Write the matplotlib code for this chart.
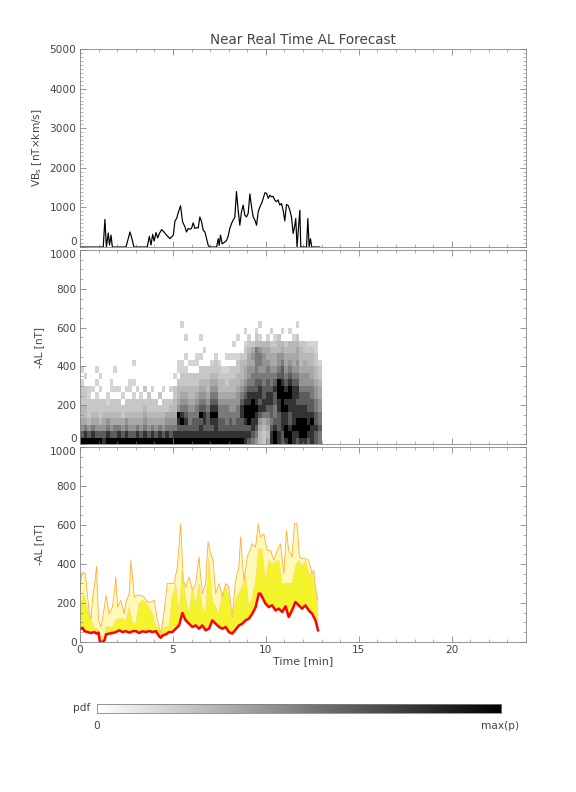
import numpy as np
import matplotlib
matplotlib.use('Agg')
import matplotlib.pyplot as plt
from matplotlib.ticker import MultipleLocator

# top panel: VBs [nT x km/s] vs time [min]
t_vbs = [0.00, 1.25, 1.34, 1.42, 1.52, 1.59, 1.67, 1.74, 2.47, 2.56, 2.69, 2.80, 2.90,
         3.62, 3.73, 3.82, 3.91, 3.99, 4.09, 4.18, 4.27, 4.39, 4.52, 4.66, 4.84, 5.02,
         5.11, 5.20, 5.30, 5.41, 5.52, 5.65, 5.73, 5.82, 5.91, 6.00, 6.09, 6.18, 6.27,
         6.36, 6.45, 6.54, 6.63, 6.72, 6.81, 6.90, 6.99, 7.35, 7.44, 7.49, 7.56, 7.65,
         7.80, 7.89, 7.97, 8.06, 8.15, 8.24, 8.33, 8.42, 8.51, 8.60, 8.69, 8.78, 8.87,
         8.96, 9.05, 9.14, 9.23, 9.32, 9.41, 9.50, 9.59, 9.68, 9.77, 9.86, 9.95, 10.04,
         10.13, 10.22, 10.30, 10.39, 10.48, 10.57, 10.66, 10.75, 10.84, 10.93, 11.02,
         11.11, 11.20, 11.29, 11.38, 11.47, 11.56, 11.61, 11.68, 11.76, 11.83, 11.88,
         12.19, 12.26, 12.33, 12.40, 12.47, 12.90]
vbs = [0, 0, 695, 0, 355, 50, 300, 0, 0, 150, 380, 200, 0,
       0, 270, 50, 320, 150, 365, 230, 340, 440, 380, 300, 212, 300,
       660, 720, 890, 1040, 635, 508, 380, 466, 450, 470, 610, 470, 490,
       480, 760, 640, 424, 380, 212, 40, 0, 0, 210, 40, 300, 80,
       130, 170, 270, 466, 590, 680, 745, 1400, 930, 550, 890, 1060, 805,
       760, 850, 1340, 1015, 760, 680, 550, 890, 1015, 1100, 1230, 1370, 1355,
       1230, 1310, 1270, 1280, 1185, 1145, 1190, 1060, 1100, 930, 660,
       1075, 1050, 930, 760, 340, 550, 720, 0, 510, 930, 0,
       0, 720, 0, 210, 0, 0]

# middle panel: pdf of -AL, one string per 0.2 min column, lowest bin first, level 0-9
pdf_dt = 0.2
pdf_dv = 1000.0 / 30
pdf_cols = [
    "975433222101", "98643322201", "9753222110", "986432201", "975432210101",
    "97532220101", "87543220", "986532110", "9754322011", "976432201001",
    "986432201", "97542201", "986532201", "9754322011", "9754322101001",
    "986432201", "975432210", "986543202", "97543222", "986432201",
    "9754322", "98643202", "975432201", "98654220", "976543201",
    "98654332201", "9878954332011", "9879865432211000001", "98787654322101001", "98766543322010",
    "9877654332201", "98776654322011", "98879765432201001", "987887654322001", "987776543322",
    "9878987654321", "98889876543221", "9877665433221", "987766543321", "98766654322101",
    "98776554332201", "9876655433220101", "98776655433221001", "98778876543332", "887899876544322101",
    "78799988765544321", "6788999876654542", "567889887766666321", "3345787887656653101", "22346887766555430",
    "43456788776654431", "887677887665443201", "99876677876544321", "88777889997655332", "778889999877654301",
    "89988989876544320", "998778899876543301", "88988888876544331", "7899887887655443201", "89998877655433320",
    "8999887765544322", "7898877765543321", "8889877665443321", "7787766554332211", "6676655443221",
]

# bottom panel: -AL forecast
t_al = [0.00, 0.14, 0.23, 0.41, 0.59, 0.77, 0.89, 1.00, 1.07, 1.22, 1.32, 1.40, 1.57,
        1.75, 1.93, 2.11, 2.29, 2.47, 2.65, 2.83, 3.01, 3.18, 3.36, 3.54, 3.72, 3.90,
        4.08, 4.26, 4.35, 4.44, 4.62, 4.79, 4.97, 5.15, 5.33, 5.51, 5.60, 5.69, 5.87,
        6.05, 6.23, 6.40, 6.58, 6.76, 6.94, 7.12, 7.30, 7.48, 7.66, 7.84, 8.01, 8.19,
        8.37, 8.55, 8.73, 8.91, 9.09, 9.27, 9.45, 9.62, 9.71, 9.80, 9.98, 10.16, 10.34,
        10.52, 10.70, 10.88, 11.06, 11.23, 11.41, 11.59, 11.77, 11.95, 12.13, 12.31,
        12.49, 12.67, 12.81]
al_median = [65, 73, 56, 51, 46, 51, 43, 48, 0, 0, 9, 39, 43,
             46, 51, 60, 51, 56, 48, 55, 56, 46, 55, 51, 56, 51,
             56, 29, 22, 34, 39, 51, 51, 68, 85, 149, 128, 111, 94,
             77, 85, 68, 85, 60, 68, 111, 94, 77, 68, 77, 51, 43,
             63, 85, 94, 111, 120, 145, 179, 248, 248, 231, 197, 179, 188,
             162, 171, 154, 183, 128, 162, 205, 188, 171, 188, 162,
             145, 111, 60]
al_band_top = [149, 240, 240, 160, 111, 70, 70, 60, 26, 26, 40, 77, 77,
               77, 111, 120, 120, 111, 180, 94, 94, 197, 214, 205, 171, 145,
               77, 77, 34, 77, 77, 77, 231, 300, 145, 385, 300, 214, 145,
               282, 188, 300, 179, 145, 436, 214, 179, 145, 248, 282, 240, 128,
               214, 248, 282, 350, 179, 231, 316, 479, 479, 479, 316, 419, 402,
               410, 419, 300, 300, 300, 300, 385, 419, 385, 419, 350,
               350, 265, 162]
t_al_max = [0.00, 0.07, 0.14, 0.29, 0.41, 0.50, 0.59, 0.68, 0.77, 0.89, 1.00, 1.13, 1.31,
            1.40, 1.57, 1.75, 1.93, 2.02, 2.20, 2.38, 2.47, 2.65, 2.74, 2.92, 3.09, 3.27,
            3.45, 3.63, 3.81, 3.99, 4.17, 4.35, 4.53, 4.70, 4.88, 5.06, 5.24, 5.42, 5.55,
            5.69, 5.87, 6.05, 6.23, 6.40, 6.58, 6.76, 6.89, 7.03, 7.16, 7.30, 7.48, 7.66,
            7.84, 8.01, 8.19, 8.37, 8.55, 8.64, 8.82, 9.00, 9.27, 9.45, 9.59, 9.71, 9.89,
            10.07, 10.25, 10.43, 10.61, 10.79, 10.97, 11.11, 11.23, 11.41, 11.54, 11.68,
            11.81, 11.95, 12.13, 12.31, 12.49, 12.58, 12.67, 12.81]
al_max = [265, 340, 359, 350, 231, 150, 120, 231, 282, 388, 111, 77, 179,
          240, 145, 179, 333, 179, 214, 145, 205, 248, 419, 231, 240, 240,
          231, 205, 205, 214, 111, 43, 162, 300, 300, 300, 388, 607, 316,
          282, 333, 265, 300, 436, 248, 300, 513, 453, 419, 248, 300, 231,
          300, 282, 128, 316, 385, 538, 316, 436, 504, 487, 607, 538, 555,
          470, 470, 419, 470, 504, 350, 572, 470, 436, 607, 607,
          436, 427, 427, 419, 350, 367, 282, 214]

vbs_ticks = [0, 1000, 2000, 3000, 4000, 5000]
al_ticks = [0, 200, 400, 600, 800, 1000]

txt = '#444444'
edge = '#808080'
fs = 10.5
plt.rcParams['font.family'] = 'DejaVu Sans'
plt.rcParams['font.size'] = fs

fig = plt.figure(figsize=(8, 11), dpi=72)
ax1 = fig.add_axes([0.1389, 0.6881, 0.7743, 0.2500])
ax2 = fig.add_axes([0.1389, 0.4394, 0.7743, 0.2449])
ax3 = fig.add_axes([0.1389, 0.1894, 0.7743, 0.2462])

ax1.plot(t_vbs, vbs, color='black', lw=1.2)
ax1.set_ylim(0, 5000)
ax1.set_yticks(vbs_ticks)
ax1.yaxis.set_minor_locator(MultipleLocator(100))
ax1.set_ylabel('VB$_\\mathrm{s}$ [nT\u00d7km/s]', color=txt, fontsize=fs)

# grey shade for each pdf level (0 = blank)
shade = np.array([0, 0.17, 0.22, 0.28, 0.34, 0.42, 0.52, 0.64, 0.80, 1.0])
grid = np.zeros((19, len(pdf_cols)))
for i, col in enumerate(pdf_cols):
    for j, ch in enumerate(col):
        grid[j, i] = shade[int(ch)]
t_edges = np.arange(len(pdf_cols) + 1) * pdf_dt
v_edges = np.arange(20) * pdf_dv
ax2.pcolormesh(t_edges, v_edges, np.ma.masked_equal(grid, 0), cmap='gray_r', vmin=0, vmax=1)
ax2.set_ylim(0, 1000)
ax2.set_ylabel('-AL [nT]', color=txt, fontsize=fs)

ax3.fill(list(t_al_max) + list(t_al[::-1]), list(al_max) + list(al_band_top[::-1]),
         color='#FFF9B8', lw=0)
ax3.fill(list(t_al) + list(t_al[::-1]), list(al_band_top) + list(al_median[::-1]),
         color='#F4F42C', lw=0)
ax3.plot(t_al_max, al_max, color='#FFAA33', lw=0.8)
ax3.plot(t_al, al_band_top, color='#FFD27A', lw=0.6)
ax3.plot(t_al, al_median, color='red', lw=2.5)
ax3.set_ylim(0, 1000)
ax3.set_ylabel('-AL [nT]', color=txt, fontsize=fs)
ax3.set_xlabel('Time [min]', color=txt, labelpad=1, fontsize=fs + 0.5)

for ax in (ax2, ax3):
    ax.set_yticks(al_ticks)
    ax.yaxis.set_minor_locator(MultipleLocator(50))

for ax in (ax1, ax2, ax3):
    ax.set_xlim(0, 24)
    ax.xaxis.set_major_locator(MultipleLocator(5))
    ax.xaxis.set_minor_locator(MultipleLocator(1))
    ax.tick_params(which='both', direction='in', top=True, right=True,
                   colors=edge, labelcolor=txt, labelsize=fs)
    ax.tick_params(which='major', length=6)
    ax.tick_params(which='minor', length=3)
    ax.yaxis.set_label_coords(-0.08, 0.5)
    for s in ax.spines.values():
        s.set_color(edge)
        s.set_linewidth(0.8)
ax1.tick_params(labelbottom=False)
ax2.tick_params(labelbottom=False)

# keep the 0 / 1000 labels at the panel joins apart
for ax in (ax1, ax2):
    ax.yaxis.get_major_ticks()[0].label1.set_verticalalignment('bottom')
for ax in (ax2, ax3):
    ax.yaxis.get_major_ticks()[-1].label1.set_verticalalignment('top')

fig.text(0.526, 1 - 40 / 792, 'Near Real Time AL Forecast', ha='center', va='center',
         color=txt, fontsize=13.5)

cax = fig.add_axes([0.1684, 0.0997, 0.7014, 0.0114])
cax.imshow(np.linspace(0, 1, 256)[None, :], aspect='auto', cmap='gray_r',
           extent=[0, 1, 0, 1])
cax.set_xticks([])
cax.set_yticks([])
for s in cax.spines.values():
    s.set_color(edge)
    s.set_linewidth(0.8)
fig.text(0.157, 1 - 708 / 792, 'pdf', ha='right', va='center', color=txt, fontsize=fs)
fig.text(0.1684, 1 - 726 / 792, '0', ha='center', va='center', color=txt, fontsize=fs)
fig.text(0.868, 1 - 726 / 792, 'max(p)', ha='center', va='center', color=txt, fontsize=fs)

fig.savefig('out.png', dpi=72)
